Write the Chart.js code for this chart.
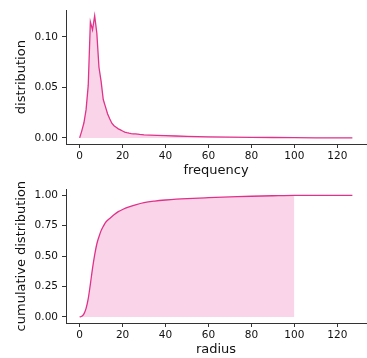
<!DOCTYPE html>
<html>
<head>
<meta charset="utf-8">
<script src="https://cdn.jsdelivr.net/npm/chart.js@4.4.0/dist/chart.umd.min.js"></script>
<style>
  html, body { margin: 0; padding: 0; background: #fff; }
  .wrap { width: 367px; height: 179px; position: relative; }
  canvas { display: block; }
</style>
</head>
<body>
<div class="wrap"><canvas id="c1" width="367" height="179"></canvas></div>
<div class="wrap"><canvas id="c2" width="367" height="179"></canvas></div>
<script>
// ---- data ----
const freqX = [0,1,2,3,4,5,6,7,8,9,10,11,12,13,14,15,16,17,18,19,20,21,22,23,24,25,26,28,30,33,36,40,45,50,60,70,80,90,100,110,120,127];
const freqY = [0,0.007,0.015,0.028,0.052,0.115,0.107,0.121,0.104,0.070,0.056,0.038,0.031,0.024,0.019,0.0145,0.012,0.0105,0.009,0.008,0.0068,0.0058,0.0052,0.0047,0.0043,0.0040,0.0039,0.0034,0.0030,0.0028,0.0025,0.0022,0.0019,0.0016,0.0011,0.0008,0.0006,0.0004,0.0002,0.0001,0.0001,0.0001];
const radiusX = [0,1,2,3,4,5,6,7,8,9,10,11,12,13,14,16,18,20,23,26,30,35,40,45,50,60,70,80,90,100,110,120,127];
const cdfY = [0,0.005,0.025,0.07,0.15,0.27,0.40,0.51,0.60,0.66,0.71,0.745,0.775,0.795,0.81,0.84,0.866,0.884,0.905,0.922,0.94,0.953,0.962,0.969,0.974,0.981,0.987,0.993,0.997,1.0,1.0,1.0,1.0];
const fillLimit = 100;
const xTicks = [0,20,40,60,80,100,120];
const yTicksTop = [0,0.05,0.10];
const yTicksBottom = [0,0.25,0.5,0.75,1.0];

const LINE = '#e0338a';
const FILL = 'rgba(231,41,138,0.2)';
const AXIS = '#333333';
const FONT = 'DejaVu Sans';

function xyPoints(xs, ys) { return xs.map((x, i) => ({x: x, y: ys[i]})); }

function makeOptions(yMin, yMax, yTicks, yDec, xTitle, yTitle) {
  return {
    responsive: false,
    animation: false,
    layout: { padding: { top: 8, right: 1, left: 0, bottom: 0 } },
    plugins: { legend: { display: false }, tooltip: { enabled: false } },
    elements: { point: { radius: 0 } },
    scales: {
      x: {
        type: 'linear', min: -6.35, max: 133.35,
        afterBuildTicks: s => { s.ticks = xTicks.map(v => ({value: v})); },
        afterFit: s => { s.height = 35; },
        grid: { drawOnChartArea: false, drawTicks: true, tickLength: 4, color: AXIS },
        border: { display: true, color: AXIS, width: 1 },
        ticks: { font: { family: FONT, size: 10.5 }, color: '#111', padding: 2, maxRotation: 0,
                 callback: v => String(v) },
        title: { display: true, text: xTitle, font: { family: FONT, size: 13 }, color: '#111',
                 padding: { top: 0, bottom: 1 } }
      },
      y: {
        type: 'linear', min: yMin, max: yMax,
        afterBuildTicks: s => { s.ticks = yTicks.map(v => ({value: v})); },
        afterFit: s => { s.width = 66; },
        grid: { drawOnChartArea: false, drawTicks: true, tickLength: 4, color: AXIS },
        border: { display: true, color: AXIS, width: 1 },
        ticks: { font: { family: FONT, size: 10.5 }, color: '#111', padding: 4,
                 callback: v => Number(v).toFixed(yDec) },
        title: { display: true, text: yTitle, font: { family: FONT, size: 13 }, color: '#111',
                 padding: { top: 14, bottom: 0 } }
      }
    }
  };
}

new Chart(document.getElementById('c1'), {
  type: 'line',
  data: {
    datasets: [{
      data: xyPoints(freqX, freqY),
      borderColor: LINE, backgroundColor: FILL, borderWidth: 1.3,
      fill: 'origin', tension: 0
    }]
  },
  options: makeOptions(-0.00605, 0.12645, yTicksTop, 2, 'frequency', 'distribution')
});

const cdfPts = xyPoints(radiusX, cdfY);
new Chart(document.getElementById('c2'), {
  type: 'line',
  data: {
    datasets: [
      {
        data: cdfPts.filter(p => p.x <= fillLimit),
        borderColor: 'rgba(0,0,0,0)', backgroundColor: FILL, borderWidth: 0,
        fill: 'origin', cubicInterpolationMode: 'monotone'
      },
      {
        data: cdfPts,
        borderColor: LINE, borderWidth: 1.3,
        fill: false, cubicInterpolationMode: 'monotone'
      }
    ]
  },
  options: makeOptions(-0.05, 1.05, yTicksBottom, 2, 'radius', 'cumulative distribution')
});
</script>
</body>
</html>
